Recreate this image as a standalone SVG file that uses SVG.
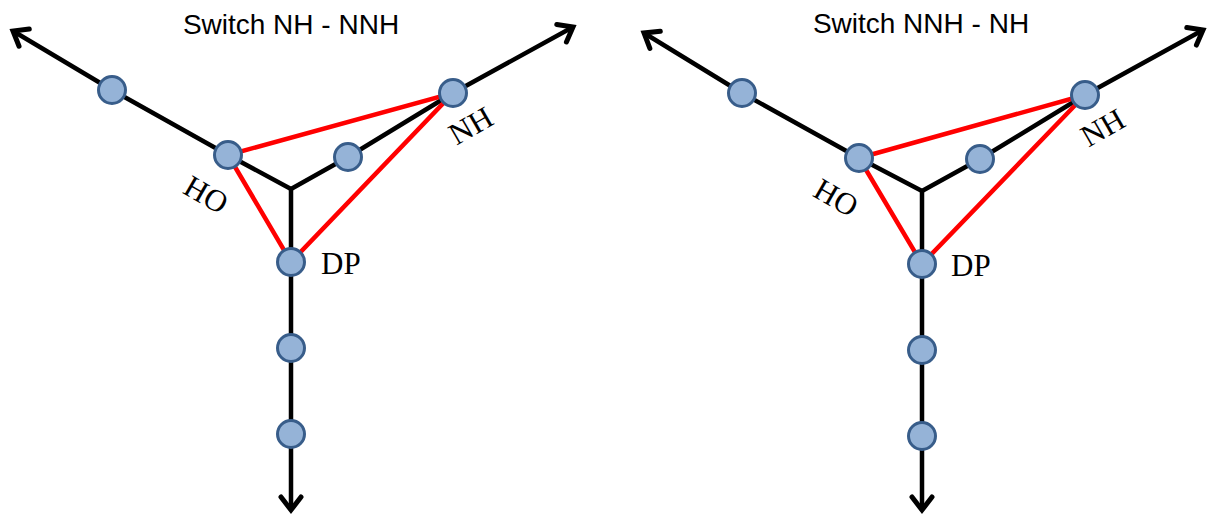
<svg xmlns="http://www.w3.org/2000/svg" width="1208" height="515" viewBox="0 0 1208 515">
<style>
.ax{fill:none;stroke:#000;stroke-width:4.5;stroke-linejoin:miter;marker-end:url(#arr)}
.red{fill:none;stroke:#ff0000;stroke-width:4.5}
.nd{fill:#95b3d7;stroke:#385d8a;stroke-width:3}
.title{font-family:"Liberation Sans",Arial,sans-serif;font-size:28px;fill:#000;text-anchor:middle}
.lbl{font-family:"Liberation Serif","Times New Roman",serif;font-size:31px;fill:#000}
.lblc{font-family:"Liberation Serif","Times New Roman",serif;font-size:31px;fill:#000;text-anchor:middle}
</style>
<defs>
<marker id="arr" markerUnits="userSpaceOnUse" markerWidth="40" markerHeight="40" refX="0" refY="0" viewBox="-20 -20 40 40" orient="auto" overflow="visible">
<path d="M -13 -10 L 0 0 L -13 10" fill="none" stroke="#000" stroke-width="5" stroke-linecap="round"/>
</marker>
</defs>
<rect width="1208" height="515" fill="#fff"/>
<text class="title" x="291" y="34">Switch NH - NNH</text>
<text class="title" x="921" y="33">Switch NNH - NH</text>
<g id="connectors">
<polyline class="ax" points="291,189 228,155 112,90 13,31"/>
<polyline class="ax" points="291,189 348,157 453,93 573,27"/>
<polyline class="ax" points="291,189 291,262 291,348 291,434 291,510"/>
<polyline class="red" points="228,155 453,93 291,262 228,155"/>
<polyline class="ax" points="922,191 859,158 742,93 644,33"/>
<polyline class="ax" points="922,191 980,159 1085,95 1203,30"/>
<polyline class="ax" points="922,191 922,264 922,350 922,436 922,510"/>
<polyline class="red" points="859,158 1085,95 922,264 859,158"/>
</g>
<g id="left-n1"><circle class="nd" cx="112" cy="90" r="13.5"/></g>
<g id="left-HO"><circle class="nd" cx="228" cy="155" r="13.5"/><text class="lblc" transform="translate(206,195) rotate(30)" y="10">HO</text></g>
<g id="left-n2"><circle class="nd" cx="348" cy="157" r="13.5"/></g>
<g id="left-NH"><circle class="nd" cx="453" cy="93" r="13.5"/><text class="lblc" transform="translate(471,126) rotate(-30)" y="10">NH</text></g>
<g id="left-DP"><circle class="nd" cx="291" cy="262" r="13.5"/><text class="lbl" x="321" y="274">DP</text></g>
<g id="left-n3"><circle class="nd" cx="291" cy="348" r="13.5"/></g>
<g id="left-n4"><circle class="nd" cx="291" cy="434" r="13.5"/></g>
<g id="right-n1"><circle class="nd" cx="742" cy="93" r="13.5"/></g>
<g id="right-HO"><circle class="nd" cx="859" cy="158" r="13.5"/><text class="lblc" transform="translate(836,198) rotate(30)" y="10">HO</text></g>
<g id="right-n2"><circle class="nd" cx="980" cy="159" r="13.5"/></g>
<g id="right-NH"><circle class="nd" cx="1085" cy="95" r="13.5"/><text class="lblc" transform="translate(1103,128) rotate(-30)" y="10">NH</text></g>
<g id="right-DP"><circle class="nd" cx="922" cy="264" r="13.5"/><text class="lbl" x="951" y="276">DP</text></g>
<g id="right-n3"><circle class="nd" cx="922" cy="350" r="13.5"/></g>
<g id="right-n4"><circle class="nd" cx="922" cy="436" r="13.5"/></g>
</svg>
